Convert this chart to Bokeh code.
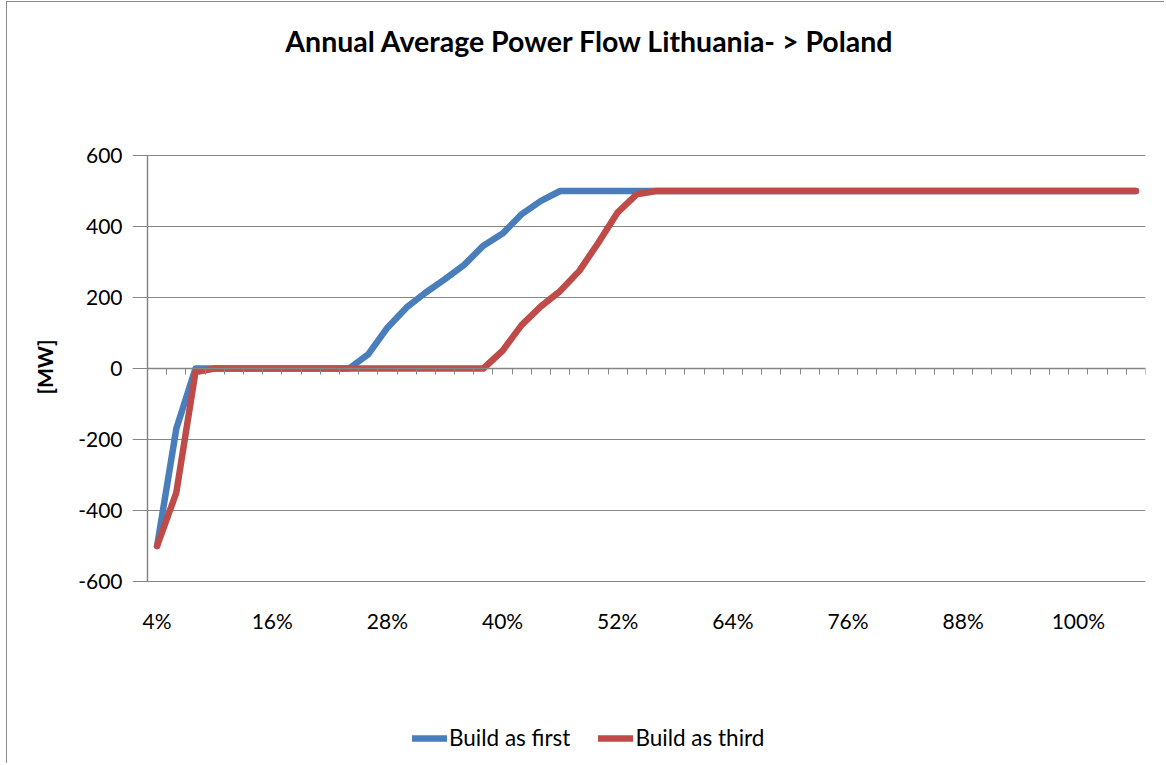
from bokeh.plotting import figure
from bokeh.models import (ColumnDataSource, FixedTicker, LinearAxis, Range1d,
                          Legend, LegendItem, Title, Grid, Label)
from bokeh.core.properties import value
from bokeh.embed import file_html
from bokeh.resources import INLINE

# ---- data ----
categories = ["4%", "6%", "8%", "10%", "12%", "14%", "16%", "18%", "20%", "22%",
              "24%", "26%", "28%", "30%", "32%", "34%", "36%", "38%", "40%", "42%",
              "44%", "46%", "48%", "50%", "52%", "54%", "56%", "58%", "60%", "62%",
              "64%", "66%", "68%", "70%", "72%", "74%", "76%", "78%", "80%", "82%",
              "84%", "86%", "88%", "90%", "92%", "94%", "96%", "98%", "100%", "102%",
              "104%", "106%"]
build_first = [-500, -170, 0, 0, 0, 0, 0, 0, 0, 0,
               0, 40, 115, 172, 214, 252, 292, 346, 380, 435,
               472, 500, 500, 500, 500, 500, 500, 500, 500, 500,
               500, 500, 500, 500, 500, 500, 500, 500, 500, 500,
               500, 500, 500, 500, 500, 500, 500, 500, 500, 500,
               500, 500]
build_third = [-500, -350, -10, 0, 0, 0, 0, 0, 0, 0,
               0, 0, 0, 0, 0, 0, 0, 0, 50, 123,
               175, 218, 275, 355, 440, 491, 500, 500, 500, 500,
               500, 500, 500, 500, 500, 500, 500, 500, 500, 500,
               500, 500, 500, 500, 500, 500, 500, 500, 500, 500,
               500, 500]
y_ticks = [-600, -400, -200, 0, 200, 400, 600]
y_tick_labels = ["-600", "-400", "-200", "0", "200", "400", "600"]
title_text = "Annual Average Power Flow Lithuania- > Poland"
y_label = "[MW]"
series_names = ["Build as first", "Build as third"]

FONT = "Lato"
GRAY = "#868686"
BLUE = "#4A7EBB"
RED = "#BE4B48"

# ---- layout constants (pixels) ----
PLOT_H = 426.0            # height of the -600..600 plot area
PLOT_W = 998.0            # width of the category plot area
PAD_TOP = 145.0           # frame space above the plot area (title lives here)
PAD_BOTTOM = 177.0        # frame space below the plot area (labels + legend)
PAD_LEFT = 15.0           # frame space left of the plot area (first label)
u_per_px_y = (y_ticks[-1] - y_ticks[0]) / PLOT_H
u_per_px_x = len(categories) / PLOT_W

idx = list(range(len(categories)))
x_lo, x_hi = -0.5, len(categories) - 0.5
src = ColumnDataSource(dict(x=idx, first=build_first, third=build_third))
lbl_idx = idx[::6]
lbl_src = ColumnDataSource(dict(x=lbl_idx, y=[y_ticks[0]] * len(lbl_idx),
                                t=[categories[i] for i in lbl_idx]))

y_top = y_ticks[-1] + PAD_TOP * u_per_px_y
y_bot = y_ticks[0] - PAD_BOTTOM * u_per_px_y

p = figure(width=1158, height=762, output_backend="svg", toolbar_location=None,
           x_range=Range1d(x_lo - PAD_LEFT * u_per_px_x, x_hi),
           y_range=Range1d(y_bot, y_top),
           min_border_left=125, min_border_right=20,
           min_border_top=8, min_border_bottom=6,
           x_axis_type=None, y_axis_type=None)
p.outline_line_color = None
p.background_fill_color = "white"
p.border_fill_color = "white"
p.styles = {"margin-left": "6px", "margin-top": "1px",
            "border-left": "1px solid #8c8c8c", "border-top": "1px solid #8c8c8c"}

# y tick labels (left panel)
ylab = LinearAxis(ticker=FixedTicker(ticks=y_ticks))
ylab.major_label_overrides = dict(zip(y_ticks, y_tick_labels))
ylab.axis_line_color = None
ylab.major_tick_line_color = None
ylab.major_tick_out = 0
ylab.major_tick_in = 0
ylab.minor_tick_line_color = None
ylab.major_label_text_font = FONT
ylab.major_label_text_font_size = "21px"
ylab.major_label_text_color = "black"
ylab.major_label_standoff = 10
p.add_layout(ylab, "left")

# y axis line with outward ticks at the left edge of the plot area
yline = LinearAxis(ticker=FixedTicker(ticks=y_ticks), bounds=(y_ticks[0], y_ticks[-1]),
                   fixed_location=x_lo)
yline.axis_line_color = GRAY
yline.axis_line_width = 1.5
yline.major_tick_line_color = GRAY
yline.major_tick_out = 8
yline.major_tick_in = 0
yline.minor_tick_line_color = None
yline.major_label_text_alpha = 0
yline.major_label_text_font_size = "1px"
yline.major_label_standoff = 0
p.add_layout(yline, "left")

# y axis title, rotated, in the left panel
yt = Title(text=y_label, align="right", offset=329, vertical_align="middle",
           standoff=35, text_font=FONT, text_font_style="bold",
           text_font_size="21px", text_color="black")
p.add_layout(yt, "left")

# category axis line crossing at zero with boundary ticks
zax = LinearAxis(ticker=FixedTicker(ticks=[i + 0.5 for i in idx]), fixed_location=0,
                 bounds=(x_lo, x_hi))
zax.axis_line_color = GRAY
zax.axis_line_width = 1.5
zax.major_tick_line_color = GRAY
zax.major_tick_in = 6
zax.major_tick_out = 0
zax.minor_tick_line_color = None
zax.major_label_text_alpha = 0
zax.major_label_text_font_size = "1px"
zax.major_label_standoff = 0
p.add_layout(zax, "above")

# horizontal grid
g = Grid(dimension=1, ticker=FixedTicker(ticks=y_ticks), bounds=(x_lo, x_hi))
g.grid_line_color = GRAY
g.grid_line_width = 1
p.add_layout(g)

# category labels below the plot area
p.text(x="x", y="y", text="t", source=lbl_src, y_offset=39,
       text_align="center", text_baseline="middle",
       text_font=value(FONT), text_font_size="21px", text_color="black")

r1 = p.line("x", "first", source=src, line_color=BLUE, line_width=6.5,
            line_join="round", line_cap="round")
r2 = p.line("x", "third", source=src, line_color=RED, line_width=6.5,
            line_join="round", line_cap="round")

legend = Legend(items=[LegendItem(label=series_names[0], renderers=[r1]),
                       LegendItem(label=series_names[1], renderers=[r2])],
                orientation="horizontal", location=(265 + PAD_LEFT, 7))
legend.border_line_color = None
legend.background_fill_alpha = 0
legend.padding = 0
legend.margin = 0
legend.spacing = 28
legend.glyph_width = 35
legend.glyph_height = 22
legend.label_height = 22
legend.label_standoff = 2
legend.label_text_font = FONT
legend.label_text_font_size = "22.5px"
legend.label_text_color = "black"
p.add_layout(legend, "center")

# chart title, centred over the whole chart
title = Label(x=x_lo + (589.5 - 147) * u_per_px_x, y=y_ticks[-1] + 115 * u_per_px_y,
              text=title_text, text_align="center", text_baseline="middle",
              text_font=FONT, text_font_style="bold", text_font_size="28.5px",
              text_color="black")
p.add_layout(title)

open("out.html", "w").write(file_html(p, INLINE))
